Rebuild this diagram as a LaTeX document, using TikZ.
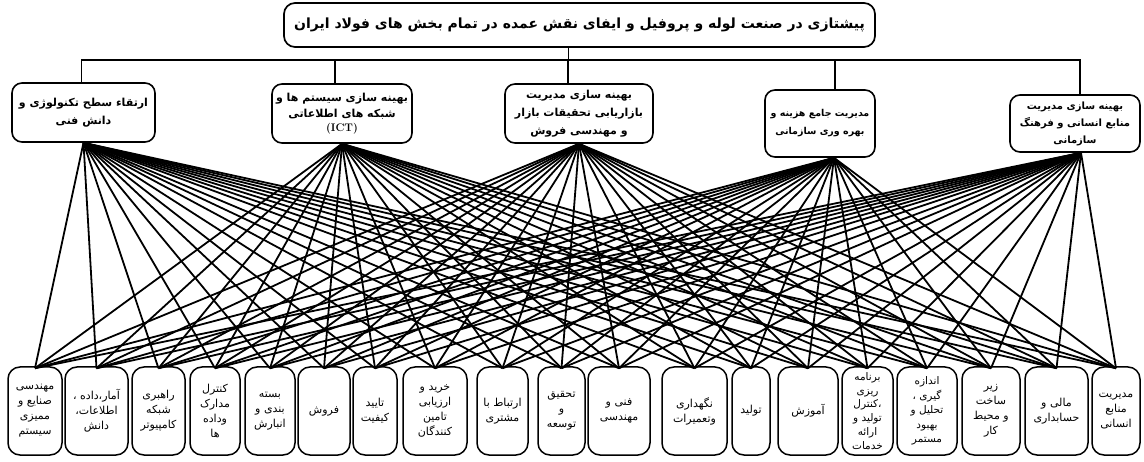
\documentclass[tikz,border=0pt]{standalone}
\usepackage{fontspec}
\TeXXeTstate=1
\newfontfamily\arabicfont[Script=Arabic]{DejaVu Sans}
\newcommand{\fa}[1]{\beginR #1\endR}
\tikzset{
  topbox/.style={draw, line width=1.7pt, rounded corners=11pt, align=center, inner sep=2pt,
    font=\arabicfont\bfseries\fontsize{14}{17}\selectfont},
  midbox/.style={draw, line width=1.6pt, rounded corners=10pt, align=center, inner sep=1pt,
    font=\arabicfont\bfseries\fontsize{11}{18}\selectfont},
  botbox/.style={draw, line width=1.5pt, rounded corners=12pt, align=center, inner sep=0pt,
    minimum height=88pt, font=\arabicfont\fontsize{11}{15}\selectfont},
  link/.style={line width=1.8pt}
}
\begin{document}
\begin{tikzpicture}[x=1pt,y=-1pt]
\useasboundingbox (0,0) rectangle (1144,462);
% top
\node[topbox, minimum width=591pt, minimum height=44pt] (top) at (579.5,25)
  {\fa{پیشتازی در صنعت لوله و پروفیل و ایفای نقش عمده در تمام بخش های فولاد  ایران}};
% middle
\node[midbox, minimum width=143pt, minimum height=59pt] (m1) at (83.5,112.5)
  {\fa{ارتقاء سطح تکنولوژی و}\\\fa{دانش فنی}};
\node[midbox, minimum width=140pt, minimum height=59pt] (m2) at (342,113.5)
  {\fa{بهینه سازی سیستم ها و}\\[-2pt]\fa{شبکه های اطلاعاتی}\\[-4pt]{\rmfamily\bfseries\fontsize{11}{12}\selectfont (ICT)}};
\node[midbox, minimum width=148pt, minimum height=59pt] (m3) at (579,113.5)
  {\fa{بهینه سازی مدیریت}\\\fa{بازاریابی  تحقیقات بازار}\\\fa{و  مهندسی فروش}};
\node[midbox, minimum width=110pt, minimum height=67pt, font=\arabicfont\bfseries\fontsize{9.5}{18}\selectfont] (m4) at (820,123.5)
  {\fa{مدیریت جامع هزینه و}\\\fa{بهره وری سازمانی}};
\node[midbox, minimum width=130pt, minimum height=57pt, font=\arabicfont\bfseries\fontsize{10}{17}\selectfont] (m5) at (1075,123.5)
  {\fa{بهینه سازی مدیریت}\\\fa{منابع انسانی و فرهنگ}\\\fa{سازمانی}};
% bus
\coordinate (bus) at (0,60);
\coordinate (t1) at ([xshift=-2pt]m1.north);
\coordinate (t2) at ([xshift=-7pt]m2.north);
\coordinate (t3) at ([xshift=-11pt]m3.north);
\coordinate (t4) at ([xshift=15pt]m4.north);
\coordinate (t5) at ([xshift=5pt]m5.north);
\coordinate (t0) at ([xshift=-11pt]top.south);
\draw[link] (t1) -- (t1|-bus) -- (t5|-bus) -- (t5);
\draw[link] (t2) -- (t2|-bus);
\draw[link] (t3) -- (t3|-bus);
\draw[link] (t4) -- (t4|-bus);
\draw[link] (t0) -- (t0|-bus);
% bottom
\node[botbox, minimum width=54pt] (b1) at (35,411) {\fa{مهندسی}\\\fa{صنایع و}\\\fa{ممیزی}\\\fa{سیستم}};
\node[botbox, minimum width=63pt] (b2) at (96.5,411) {\fa{آمار،داده ،}\\\fa{اطلاعات،}\\\fa{دانش}};
\node[botbox, minimum width=53pt] (b3) at (158.5,411) {\fa{راهبری}\\\fa{شبکه}\\\fa{کامپیوتر}};
\node[botbox, minimum width=50pt] (b4) at (215,411) {\fa{کنترل}\\\fa{مدارک}\\\fa{وداده}\\\fa{ها}};
\node[botbox, minimum width=50pt] (b5) at (270,411) {\fa{بسته}\\\fa{بندی و}\\\fa{انبارش}};
\node[botbox, minimum width=52pt] (b6) at (324,411) {\fa{فروش}};
\node[botbox, minimum width=44pt] (b7) at (375,411) {\fa{تایید}\\\fa{کیفیت}};
\node[botbox, minimum width=64pt] (b8) at (435,411) {\fa{خرید و}\\\fa{ارزیابی}\\\fa{تامین}\\\fa{کنندگان}};
\node[botbox, minimum width=51pt] (b9) at (502.5,411) {\fa{ارتباط با}\\\fa{مشتری}};
\node[botbox, minimum width=47pt] (b10) at (561.5,411) {\fa{تحقیق}\\\fa{و}\\\fa{توسعه}};
\node[botbox, minimum width=62pt] (b11) at (619,411) {\fa{فنی و}\\\fa{مهندسی}};
\node[botbox, minimum width=65pt] (b12) at (694.5,411) {\fa{نگهداری}\\\fa{وتعمیرات}};
\node[botbox, minimum width=38pt] (b13) at (751,411) {\fa{تولید}};
\node[botbox, minimum width=60pt] (b14) at (808,411) {\fa{آموزش}};
\node[botbox, minimum width=51pt, font=\arabicfont\fontsize{10.5}{13.8}\selectfont] (b15) at (867.5,411) {\fa{برنامه}\\\fa{ریزی}\\\fa{،کنترل}\\\fa{تولید و}\\\fa{ارائه}\\\fa{خدمات}};
\node[botbox, minimum width=60pt, font=\arabicfont\fontsize{10.5}{14.5}\selectfont] (b16) at (927,411) {\fa{اندازه}\\\fa{گیری ،}\\\fa{تحلیل و}\\\fa{بهبود}\\\fa{مستمر}};
\node[botbox, minimum width=58pt] (b17) at (991,411) {\fa{زیر}\\\fa{ساخت}\\\fa{و محیط}\\\fa{کار}};
\node[botbox, minimum width=63pt] (b18) at (1056.5,411) {\fa{مالی و}\\\fa{حسابداری}};
\node[botbox, minimum width=48pt] (b19) at (1116,411) {\fa{مدیریت}\\\fa{منابع}\\\fa{انسانی}};
% fan points
\coordinate (f1) at (m1.south);
\coordinate (f2) at (m2.south);
\coordinate (f3) at (m3.south);
\coordinate (f4) at ([xshift=14pt]m4.south);
\coordinate (f5) at ([xshift=6pt]m5.south);
\foreach \m in {f1,f2,f3,f4,f5}
  \foreach \b in {b1,b2,b3,b4,b5,b6,b7,b8,b9,b10,b11,b12,b13,b14,b15,b16,b17,b18,b19}
    \draw[link] (\m) -- ([yshift=-2pt]\b.north);
\end{tikzpicture}
\end{document}
